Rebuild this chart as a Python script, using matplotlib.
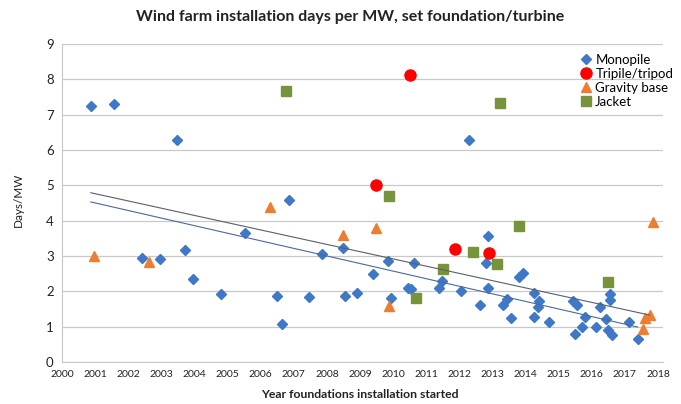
import matplotlib
matplotlib.use("Agg")
import matplotlib.pyplot as plt

# ---- data ----
mono_year = [2000.87, 2001.57, 2003.46, 2002.41, 2002.95, 2003.70, 2003.95, 2004.79,
             2005.54, 2006.48, 2006.63, 2006.87, 2007.47, 2007.86, 2008.49, 2008.55,
             2008.92, 2009.40, 2009.85, 2009.94, 2010.45, 2010.54, 2010.63, 2011.39,
             2011.48, 2012.05, 2012.29, 2012.62, 2012.86, 2012.80, 2012.86, 2013.31,
             2013.43, 2013.55, 2013.80, 2013.92, 2014.25, 2014.25, 2014.37, 2014.40,
             2014.70, 2015.43, 2015.55, 2015.50, 2015.78, 2015.69, 2016.12, 2016.24,
             2016.42, 2016.54, 2016.54, 2016.50, 2016.60, 2017.11, 2017.38]
mono_days = [7.25, 7.31, 6.29, 2.95, 2.92, 3.17, 2.35, 1.93,
             3.66, 1.87, 1.08, 4.59, 1.84, 3.06, 3.23, 1.87,
             1.95, 2.49, 2.86, 1.81, 2.10, 2.07, 2.80, 2.10,
             2.29, 2.01, 6.29, 1.61, 3.57, 2.80, 2.10, 1.61,
             1.78, 1.25, 2.41, 2.52, 1.95, 1.27, 1.56, 1.73,
             1.13, 1.73, 1.61, 0.79, 1.27, 0.99, 0.99, 1.56,
             1.22, 1.92, 1.76, 0.90, 0.76, 1.13, 0.65]

tri_year = [2010.51, 2009.49, 2011.87, 2012.89]
tri_days = [8.13, 5.01, 3.20, 3.09]

grav_year = [2000.96, 2002.62, 2006.27, 2008.49, 2009.49, 2009.88, 2017.86, 2017.60, 2017.75, 2017.56]
grav_days = [3.00, 2.83, 4.39, 3.60, 3.79, 1.59, 3.97, 1.25, 1.32, 0.93]

jack_year = [2006.75, 2013.22, 2009.88, 2011.50, 2010.70, 2012.40, 2013.13, 2013.80, 2016.50]
jack_days = [7.68, 7.34, 4.70, 2.63, 1.81, 3.12, 2.78, 3.85, 2.27]

# trend lines (start/end)
trend_upper_year = [2000.87, 2017.74]
trend_upper_days = [4.79, 1.33]
trend_lower_year = [2000.87, 2017.38]
trend_lower_days = [4.53, 0.99]

x_ticks = list(range(2000, 2019))
y_ticks = list(range(0, 10))

plt.rcParams['font.family'] = ['Lato', 'DejaVu Sans']

fig = plt.figure(figsize=(6.81, 4.04), dpi=100)
ax = fig.add_axes([62/681, 1-362/404, (663-62)/681, (362-44)/404])

ax.set_xlim(2000, 2018.15)
ax.set_ylim(0, 9)
ax.set_xticks(x_ticks)
ax.set_xticklabels([str(t) for t in x_ticks], fontsize=7.5)
ax.set_yticks(y_ticks)
ax.set_yticklabels([str(t) for t in y_ticks], fontsize=9.5)
ax.tick_params(axis='both', length=0, pad=6, colors='#222222')
ax.grid(axis='y', color='#c8c8c8', linewidth=0.9)
ax.set_axisbelow(True)
for s in ['top', 'right']:
    ax.spines[s].set_visible(False)
ax.spines['left'].set_color('#c8c8c8')
ax.spines['bottom'].set_color('#c8c8c8')

ax.plot(mono_year, mono_days, linestyle='none', marker='D', markersize=5.2,
        color='#3f78c6', label='Monopile', zorder=3)
ax.plot(tri_year, tri_days, linestyle='none', marker='o', markersize=8,
        color='#ff0000', label='Tripile/tripod', zorder=3)
ax.plot(grav_year, grav_days, linestyle='none', marker='^', markersize=7.5,
        color='#ed7d31', label='Gravity base', zorder=3)
ax.plot(jack_year, jack_days, linestyle='none', marker='s', markersize=7,
        color='#77933c', label='Jacket', zorder=3)

ax.plot(trend_upper_year, trend_upper_days, color='#56606c', linewidth=0.8, zorder=4)
ax.plot(trend_lower_year, trend_lower_days, color='#4a68a0', linewidth=0.8, zorder=4)

leg = ax.legend(loc='upper left', bbox_to_anchor=(0.85, 0.985), frameon=False,
                fontsize=9.5, handletextpad=0.1, labelspacing=0.15, handlelength=1.2,
                borderaxespad=0)

fig.text(350/681, 1-17/404, 'Wind farm installation days per MW, set foundation/turbine',
         ha='center', va='center', fontsize=11.5, fontweight='bold', color='#222222')
fig.text(360/681, 1-395/404, 'Year foundations installation started',
         ha='center', va='center', fontsize=8.8, fontweight='bold', color='#222222')
fig.text(18/681, 1-200/404, 'Days/MW', rotation=90, ha='center', va='center',
         fontsize=8.5, color='#222222')

fig.savefig('out.png', dpi=100)
